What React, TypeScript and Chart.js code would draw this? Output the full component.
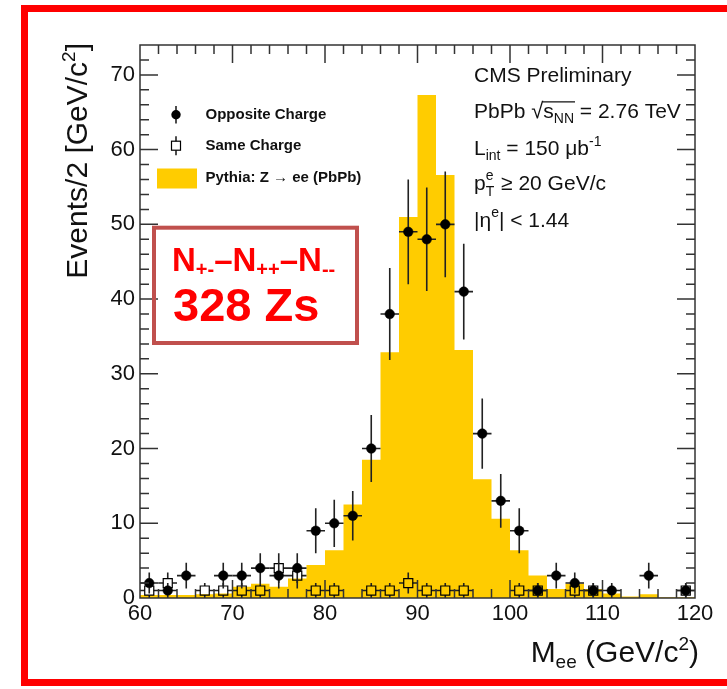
import React, { useEffect, useRef } from "react";
import { Chart, registerables } from "chart.js";

Chart.register(...registerables);

const FONT = '"Liberation Sans", Arial, Helvetica, sans-serif';

// Bin edges of the 2 GeV histogram (GeV/c^2)
const binEdges = [60, 62, 64, 66, 68, 70, 72, 74, 76, 78, 80, 82, 84, 86, 88, 90, 92, 94, 96, 98, 100, 102, 104, 106, 108, 110, 112, 114, 116, 118, 120];
// Bin centres
const binCenters = [61, 63, 65, 67, 69, 71, 73, 75, 77, 79, 81, 83, 85, 87, 89, 91, 93, 95, 97, 99, 101, 103, 105, 107, 109, 111, 113, 115, 117, 119];
// Pythia Z -> ee (PbPb) expectation per bin
const pythiaZee = [0.4, 0.4, 0.4, 0.5, 0.6, 1.5, 1.9, 1.5, 2.6, 4.4, 6.4, 12.5, 18.5, 32.9, 51.0, 67.3, 56.6, 33.2, 15.9, 10.6, 6.4, 3.0, 1.2, 1.9, 1.2, 0.6, 0.2, 0.5, 0.1, 0.1];
// Opposite charge pairs per bin
const oppositeCharge = [2, 1, 3, 0, 3, 3, 4, 3, 4, 9, 10, 11, 20, 38, 49, 48, 50, 41, 22, 13, 9, 1, 3, 2, 1, 1, 0, 3, 0, 1];
// Same charge pairs per bin
const sameCharge = [1, 2, 0, 1, 1, 1, 1, 4, 3, 1, 1, 0, 1, 1, 2, 1, 1, 1, 0, 0, 1, 1, 0, 1, 1, 0, 0, 0, 0, 1];
// Axis ticks
const xTicks = [60, 70, 80, 90, 100, 110, 120];
const yTicks = [0, 10, 20, 30, 40, 50, 60, 70];
const minorStep = 2;

type Seg = { t: string; size: number; dy?: number; bold?: boolean };

function setFont(ctx: CanvasRenderingContext2D, s: Seg) {
  ctx.font = `${s.bold ? "bold " : ""}${s.size}px ${FONT}`;
}
function richWidth(ctx: CanvasRenderingContext2D, segs: Seg[]) {
  let w = 0;
  for (const s of segs) {
    setFont(ctx, s);
    w += ctx.measureText(s.t).width;
  }
  return w;
}
function drawRich(ctx: CanvasRenderingContext2D, x: number, y: number, segs: Seg[]) {
  let cx = x;
  for (const s of segs) {
    setFont(ctx, s);
    ctx.fillText(s.t, cx, y + (s.dy || 0));
    cx += ctx.measureText(s.t).width;
  }
  return cx;
}

const binHalf = (binEdges[1] - binEdges[0]) / 2;

const errorBarPlugin = {
  id: "errbars",
  beforeDatasetDraw(chart: any, args: any) {
    const ds = chart.data.datasets[args.index];
    if (!ds.errBars) return;
    const { ctx, chartArea: a } = chart;
    const x = chart.scales.x;
    const y = chart.scales.y;
    ctx.save();
    ctx.beginPath();
    ctx.rect(a.left, a.top, a.right - a.left, a.bottom - a.top);
    ctx.clip();
    ctx.strokeStyle = "#222";
    ctx.lineWidth = 1.6;
    for (const p of ds.data) {
      if (p.y == null) continue;
      const px = x.getPixelForValue(p.x);
      const py = y.getPixelForValue(p.y);
      const xl = x.getPixelForValue(p.x - binHalf);
      const xr = x.getPixelForValue(p.x + binHalf);
      const err = Math.sqrt(p.y);
      const yt = y.getPixelForValue(p.y + err);
      const yb = y.getPixelForValue(Math.max(0, p.y - err));
      const g = ds.errGap || 0;
      ctx.beginPath();
      ctx.moveTo(xl, py); ctx.lineTo(px - g, py);
      ctx.moveTo(px + g, py); ctx.lineTo(xr, py);
      ctx.moveTo(px, yt); ctx.lineTo(px, py - g);
      ctx.moveTo(px, py + g); ctx.lineTo(px, yb);
      ctx.stroke();
    }
    ctx.restore();
  },
};

const decorPlugin = {
  id: "decor",
  afterDatasetsDraw(chart: any) {
    const { ctx, chartArea: a } = chart;
    const x = chart.scales.x;
    const y = chart.scales.y;
    ctx.save();
    ctx.strokeStyle = "#333";
    ctx.lineWidth = 1.5;
    ctx.strokeRect(a.left, a.top, a.right - a.left, a.bottom - a.top);
    ctx.beginPath();
    for (let v = yTicks[0] + minorStep; v < y.max; v += minorStep) {
      const len = yTicks.includes(v) ? 18 : 9;
      const py = y.getPixelForValue(v);
      ctx.moveTo(a.left, py); ctx.lineTo(a.left + len, py);
      ctx.moveTo(a.right, py); ctx.lineTo(a.right - len, py);
    }
    for (let v = xTicks[0] + minorStep; v < x.max; v += minorStep) {
      const len = xTicks.includes(v) ? 18 : 9;
      const px = x.getPixelForValue(v);
      ctx.moveTo(px, a.bottom); ctx.lineTo(px, a.bottom - len);
      ctx.moveTo(px, a.top); ctx.lineTo(px, a.top + len);
    }
    ctx.stroke();
    ctx.restore();
  },
  afterDraw(chart: any) {
    const { ctx } = chart;
    ctx.save();
    ctx.textBaseline = "alphabetic";
    ctx.textAlign = "left";
    ctx.fillStyle = "#111";

    // Y axis title (rotated, aligned to top)
    const ySegs: Seg[] = [
      { t: "Events/2 [GeV/c", size: 30 },
      { t: "2", size: 19, dy: -12 },
      { t: "]", size: 30 },
    ];
    const yw = richWidth(ctx, ySegs);
    ctx.save();
    ctx.translate(87, 43 + yw);
    ctx.rotate(-Math.PI / 2);
    drawRich(ctx, 0, 0, ySegs);
    ctx.restore();

    // X axis title (right aligned)
    const xSegs: Seg[] = [
      { t: "M", size: 30 },
      { t: "ee", size: 19, dy: 6 },
      { t: " (GeV/c", size: 30 },
      { t: "2", size: 19, dy: -12 },
      { t: ")", size: 30 },
    ];
    const xw = richWidth(ctx, xSegs);
    drawRich(ctx, 699 - xw, 662, xSegs);

    // Legend
    ctx.strokeStyle = "#222";
    ctx.lineWidth = 1.6;
    ctx.beginPath();
    ctx.moveTo(176, 106); ctx.lineTo(176, 123.4);
    ctx.moveTo(176, 136.2); ctx.lineTo(176, 141.2);
    ctx.moveTo(176, 150.2); ctx.lineTo(176, 155.2);
    ctx.stroke();
    ctx.fillStyle = "#000";
    ctx.beginPath();
    ctx.arc(176, 114.7, 4.7, 0, Math.PI * 2);
    ctx.fill();
    ctx.strokeStyle = "#000";
    ctx.lineWidth = 1.2;
    ctx.strokeRect(171.5, 141.2, 9, 9);
    ctx.fillStyle = "#ffcc00";
    ctx.fillRect(157, 168.5, 40, 20);
    ctx.fillStyle = "#111";
    ctx.font = `bold 15px ${FONT}`;
    ctx.textBaseline = "middle";
    ctx.fillText("Opposite Charge", 205.5, 114.7);
    ctx.fillText("Same Charge", 205.5, 145.7);
    ctx.fillText("Pythia: Z \u2192 ee (PbPb)", 205.5, 178.3);
    ctx.textBaseline = "alphabetic";

    // Right-hand text block
    const tx = 474;
    ctx.fillStyle = "#111";
    drawRich(ctx, tx, 81.7, [{ t: "CMS Preliminary", size: 21 }]);

    let cx = drawRich(ctx, tx, 118.3, [{ t: "PbPb ", size: 21 }, { t: "\u221A", size: 22 }]);
    const ox0 = cx;
    cx = drawRich(ctx, cx, 118.3, [{ t: "s", size: 21 }, { t: "NN", size: 14, dy: 5 }]);
    ctx.strokeStyle = "#111";
    ctx.lineWidth = 1.3;
    ctx.beginPath();
    ctx.moveTo(ox0 - 1, 101.8);
    ctx.lineTo(cx + 1, 101.8);
    ctx.stroke();
    drawRich(ctx, cx, 118.3, [{ t: " = 2.76 TeV", size: 21 }]);

    drawRich(ctx, tx, 155, [
      { t: "L", size: 21 },
      { t: "int", size: 14, dy: 5 },
      { t: " = 150 \u03BCb", size: 21 },
      { t: "-1", size: 14, dy: -9 },
    ]);

    cx = drawRich(ctx, tx, 190, [{ t: "p", size: 21 }]);
    drawRich(ctx, cx, 190, [{ t: "e", size: 14, dy: -10 }]);
    const tEnd = drawRich(ctx, cx, 190, [{ t: "T", size: 14, dy: 6 }]);
    drawRich(ctx, tEnd + 1, 190, [{ t: " \u2265 20 GeV/c", size: 21 }]);

    drawRich(ctx, tx, 226.7, [
      { t: "|\u03B7", size: 21 },
      { t: "e", size: 14, dy: -10 },
      { t: "| < 1.44", size: 21 },
    ]);

    // Annotation box
    ctx.strokeStyle = "#c0504d";
    ctx.lineWidth = 4;
    ctx.strokeRect(154, 227.7, 203, 115.3);
    ctx.fillStyle = "#ff0000";
    drawRich(ctx, 172, 271, [
      { t: "N", size: 33, bold: true },
      { t: "+-", size: 20, dy: 5, bold: true },
      { t: "\u2013N", size: 33, bold: true },
      { t: "++", size: 20, dy: 5, bold: true },
      { t: "\u2013N", size: 33, bold: true },
      { t: "--", size: 20, dy: 5, bold: true },
    ]);
    drawRich(ctx, 173, 321, [{ t: "328 Zs", size: 47, bold: true }]);

    // Outer red frame
    ctx.strokeStyle = "#ff0000";
    ctx.lineWidth = 7;
    ctx.strokeRect(24.5, 8.5, 740, 674);

    ctx.restore();
  },
};

export default function App() {
  const ref = useRef<HTMLCanvasElement | null>(null);
  useEffect(() => {
    if (!ref.current) return;
    const pts = (vals: number[]) => binCenters.map((c, i) => ({ x: c, y: vals[i] > 0 ? vals[i] : null }));
    const hist = binEdges.map((e, i) => ({ x: e, y: pythiaZee[Math.min(i, pythiaZee.length - 1)] }));
    const tickFont = { family: FONT, size: 22 };
    const chart = new Chart(ref.current, {
      type: "scatter",
      data: {
        datasets: [
          {
            label: "Opposite Charge",
            data: pts(oppositeCharge),
            pointStyle: "circle",
            pointRadius: 4.8,
            backgroundColor: "#000",
            borderColor: "#000",
            borderWidth: 0.5,
            errBars: true,
            errGap: 0,
          } as any,
          {
            label: "Same Charge",
            data: pts(sameCharge),
            pointStyle: "rect",
            pointRadius: 6.4,
            backgroundColor: "rgba(0,0,0,0)",
            borderColor: "#000",
            borderWidth: 1.2,
            errBars: true,
            errGap: 4.5,
          } as any,
          {
            type: "line",
            label: "Pythia: Z \u2192 ee (PbPb)",
            data: hist,
            stepped: true,
            fill: "origin",
            backgroundColor: "#ffcc00",
            borderColor: "rgba(0,0,0,0)",
            borderWidth: 1,
            pointRadius: 0,
          } as any,
        ],
      },
      options: {
        animation: false,
        responsive: false,
        layout: { padding: { left: 0, top: 45, right: 32, bottom: 0 } },
        plugins: { legend: { display: false }, tooltip: { enabled: false } },
        scales: {
          x: {
            type: "linear",
            min: 60,
            max: 120,
            afterFit: (s: any) => { s.height = 91; },
            grid: { display: false, drawTicks: false },
            border: { display: false },
            ticks: { stepSize: 10, font: tickFont, color: "#111", padding: 3, maxRotation: 0, autoSkip: false, includeBounds: false },
          },
          y: {
            type: "linear",
            min: 0,
            max: 74,
            afterFit: (s: any) => { s.width = 140; },
            grid: { display: false, drawTicks: false },
            border: { display: false },
            ticks: { stepSize: 10, font: tickFont, color: "#111", padding: 5, autoSkip: false, includeBounds: false },
          },
        },
      } as any,
      plugins: [errorBarPlugin, decorPlugin],
    });
    return () => chart.destroy();
  }, []);
  return (
    <div style={{ position: "absolute", left: 0, top: 0, width: 727, height: 689, background: "#fff" }}>
      <canvas ref={ref} width={727} height={689} style={{ display: "block" }} />
    </div>
  );
}
